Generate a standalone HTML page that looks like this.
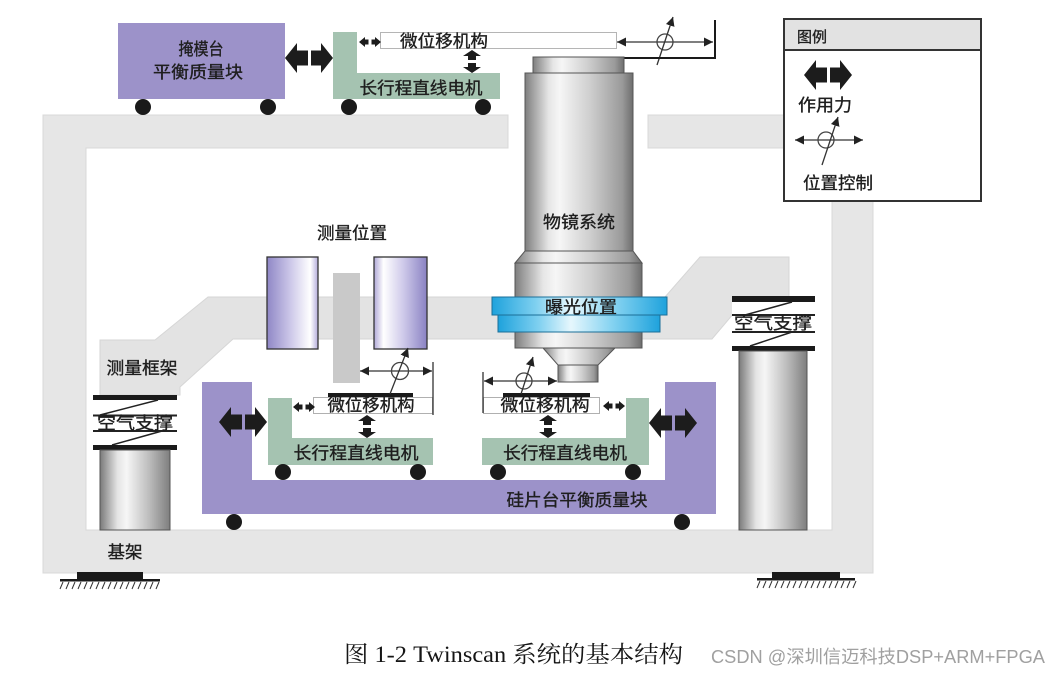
<!DOCTYPE html>
<html><head><meta charset="utf-8">
<style>
html,body{margin:0;padding:0;background:#fff;}
svg{display:block;}
text{font-family:"Liberation Sans","Noto Sans CJK SC",sans-serif;fill:#1e1e1e;}
.lb text{stroke:#1e1e1e;stroke-width:0.35;}
</style></head>
<body>
<svg width="1063" height="674" viewBox="0 0 1063 674" xmlns="http://www.w3.org/2000/svg">
<defs>
  <linearGradient id="gObj" x1="0" x2="1" y1="0" y2="0">
    <stop offset="0" stop-color="#7e7e7e"/>
    <stop offset="0.22" stop-color="#e6e6e6"/>
    <stop offset="0.32" stop-color="#f6f6f6"/>
    <stop offset="0.6" stop-color="#cfcfcf"/>
    <stop offset="0.9" stop-color="#9a9a9a"/>
    <stop offset="1" stop-color="#6e6e6e"/>
  </linearGradient>
  <linearGradient id="gCyl" x1="0" x2="1" y1="0" y2="0">
    <stop offset="0" stop-color="#7a7a7a"/>
    <stop offset="0.25" stop-color="#e4e4e4"/>
    <stop offset="0.38" stop-color="#f6f6f6"/>
    <stop offset="0.7" stop-color="#bdbdbd"/>
    <stop offset="1" stop-color="#7e7e7e"/>
  </linearGradient>
  <linearGradient id="gPurL" x1="0" x2="1" y1="0" y2="0">
    <stop offset="0" stop-color="#8f87c6"/>
    <stop offset="0.45" stop-color="#cbc6e8"/>
    <stop offset="0.85" stop-color="#ffffff"/>
    <stop offset="1" stop-color="#b4acdb"/>
  </linearGradient>
  <linearGradient id="gPurR" x1="0" x2="1" y1="0" y2="0">
    <stop offset="0" stop-color="#b0a8d8"/>
    <stop offset="0.18" stop-color="#ffffff"/>
    <stop offset="0.55" stop-color="#cfcaea"/>
    <stop offset="1" stop-color="#8a82c3"/>
  </linearGradient>
  <linearGradient id="gBlue" x1="0" x2="1" y1="0" y2="0">
    <stop offset="0" stop-color="#1ea2dc"/>
    <stop offset="0.25" stop-color="#7fd0f0"/>
    <stop offset="0.45" stop-color="#e6f7fd"/>
    <stop offset="0.7" stop-color="#86d3f1"/>
    <stop offset="1" stop-color="#1ea2dc"/>
  </linearGradient>
  <marker id="ah" viewBox="0 0 10 10" refX="10" refY="5" markerWidth="9" markerHeight="9" markerUnits="userSpaceOnUse" orient="auto-start-reverse">
    <path d="M0,0 L10,5 L0,10 z" fill="#222"/>
  </marker>
  <g id="bigA" fill="#1c1c1c">
    <polygon points="0,15 12,0 12,7.5 23,7.5 23,22.5 12,22.5 12,30"/>
    <polygon points="48,15 36,0 36,7.5 26,7.5 26,22.5 36,22.5 36,30"/>
  </g>
  <g id="smA" fill="#1c1c1c">
    <polygon points="0,5 6,0 6,2.5 9.5,2.5 9.5,7.5 6,7.5 6,10"/>
    <polygon points="22,5 16,0 16,2.5 12.5,2.5 12.5,7.5 16,7.5 16,10"/>
  </g>
  <g id="vA" fill="#1c1c1c">
    <polygon points="9,0 18,6 13,6 13,10 5,10 5,6 0,6"/>
    <polygon points="9,23 18,17 13,17 13,13 5,13 5,17 0,17"/>
  </g>
  <g id="hatch" stroke="#333" stroke-width="1">
    <line x1="3" y1="0" x2="0" y2="7"/><line x1="9" y1="0" x2="6" y2="7"/>
    <line x1="15" y1="0" x2="12" y2="7"/><line x1="21" y1="0" x2="18" y2="7"/>
    <line x1="27" y1="0" x2="24" y2="7"/><line x1="33" y1="0" x2="30" y2="7"/>
    <line x1="39" y1="0" x2="36" y2="7"/><line x1="45" y1="0" x2="42" y2="7"/>
    <line x1="51" y1="0" x2="48" y2="7"/><line x1="57" y1="0" x2="54" y2="7"/>
    <line x1="63" y1="0" x2="60" y2="7"/><line x1="69" y1="0" x2="66" y2="7"/>
    <line x1="75" y1="0" x2="72" y2="7"/><line x1="81" y1="0" x2="78" y2="7"/>
    <line x1="87" y1="0" x2="84" y2="7"/><line x1="93" y1="0" x2="90" y2="7"/>
    <line x1="99" y1="0" x2="96" y2="7"/>
  </g>
</defs>

<!-- base frame -->
<path d="M43,115 H508 V148 H86 V530 H832 V148 H648 V115 H873 V573 H43 Z" fill="#e6e6e6" stroke="#d8d8d8" stroke-width="1"/>

<!-- measurement frame band -->
<polygon points="100,340 155,340 208,297 665,297 700,257 789,257 789,300 745,300 712,339 233,339 180,387 180,395 100,395" fill="#e3e3e3" stroke="#d6d6d6" stroke-width="1"/>

<!-- reticle balance mass -->
<rect x="118" y="23" width="167" height="76" fill="#9c92c9"/>
<circle cx="143" cy="107" r="8" fill="#1a1a1a"/>
<circle cx="268" cy="107" r="8" fill="#1a1a1a"/>
<use href="#bigA" transform="translate(285,43)"/>
<!-- top stage -->
<path d="M333,32 H357 V73 H500 V99 H333 Z" fill="#a5c3b1"/>
<circle cx="349" cy="107" r="8" fill="#1a1a1a"/>
<circle cx="483" cy="107" r="8" fill="#1a1a1a"/>
<rect x="380.5" y="32.5" width="236" height="16" fill="#fff" stroke="#b5b5b5" stroke-width="1"/>
<use href="#smA" transform="translate(359,37)"/>
<use href="#vA" transform="translate(463,50)"/>

<!-- top position control -->
<line x1="617" y1="42" x2="713" y2="42" stroke="#333" stroke-width="1.3" marker-start="url(#ah)" marker-end="url(#ah)"/>
<circle cx="665" cy="42" r="8" fill="none" stroke="#444" stroke-width="1.3"/>
<line x1="657" y1="65" x2="673" y2="17" stroke="#333" stroke-width="1.3" marker-end="url(#ah)"/>
<polyline points="624,58 715,58 715,20" fill="none" stroke="#1a1a1a" stroke-width="2"/>

<!-- objective -->
<rect x="533" y="57" width="91" height="16" fill="url(#gObj)" stroke="#555" stroke-width="1"/>
<rect x="525" y="73" width="108" height="178" fill="url(#gObj)" stroke="#555" stroke-width="1"/>
<polygon points="525,251 633,251 642,263 515,263" fill="url(#gObj)" stroke="#555" stroke-width="1"/>
<rect x="515" y="263" width="127" height="85" fill="url(#gObj)" stroke="#555" stroke-width="1"/>
<polygon points="543,348 615,348 598,365 558,365" fill="url(#gObj)" stroke="#555" stroke-width="1"/>
<rect x="558" y="365" width="40" height="17" fill="url(#gObj)" stroke="#555" stroke-width="1"/>
<!-- exposure rings -->
<rect x="492" y="297" width="175" height="18" fill="url(#gBlue)" stroke="#1b6f98" stroke-width="1"/>
<rect x="498" y="315" width="162" height="17" fill="url(#gBlue)" stroke="#1b6f98" stroke-width="1"/>

<!-- measurement station -->
<rect x="333" y="273" width="27" height="110" fill="#c9c9c9"/>
<rect x="267" y="257" width="51" height="92" fill="url(#gPurL)" stroke="#333" stroke-width="1.3"/>
<rect x="374" y="257" width="53" height="92" fill="url(#gPurR)" stroke="#333" stroke-width="1.3"/>

<!-- wafer balance mass -->
<polygon points="202,382 252,382 252,480 665,480 665,382 716,382 716,514 202,514" fill="#9c92c9"/>
<circle cx="234" cy="522" r="8" fill="#1a1a1a"/>
<circle cx="682" cy="522" r="8" fill="#1a1a1a"/>
<use href="#bigA" transform="translate(219,407)"/>
<use href="#bigA" transform="translate(649,408)"/>

<!-- left wafer stage -->
<path d="M268,398 H292 V438 H433 V465 H268 Z" fill="#a5c3b1"/>
<circle cx="283" cy="472" r="8" fill="#1a1a1a"/>
<circle cx="418" cy="472" r="8" fill="#1a1a1a"/>
<rect x="313.5" y="397.5" width="119" height="16" fill="#fff" stroke="#b0b0b0" stroke-width="1"/>
<rect x="328" y="393" width="85" height="4" fill="#1a1a1a"/>
<use href="#smA" transform="translate(293,402)"/>
<use href="#vA" transform="translate(358,415)"/>
<line x1="360" y1="371" x2="432" y2="371" stroke="#333" stroke-width="1.3" marker-start="url(#ah)" marker-end="url(#ah)"/>
<line x1="433" y1="362" x2="433" y2="415" stroke="#333" stroke-width="1.3"/>
<circle cx="400" cy="371" r="8.5" fill="none" stroke="#444" stroke-width="1.3"/>
<line x1="390" y1="394" x2="408" y2="348" stroke="#333" stroke-width="1.3" marker-end="url(#ah)"/>

<!-- right wafer stage -->
<path d="M626,398 H649 V465 H482 V438 H626 Z" fill="#a5c3b1"/>
<circle cx="498" cy="472" r="8" fill="#1a1a1a"/>
<circle cx="633" cy="472" r="8" fill="#1a1a1a"/>
<rect x="483.5" y="397.5" width="116" height="16" fill="#fff" stroke="#b0b0b0" stroke-width="1"/>
<rect x="503" y="393" width="87" height="4" fill="#1a1a1a"/>
<use href="#smA" transform="translate(603,401)"/>
<use href="#vA" transform="translate(539,415)"/>
<line x1="484" y1="381" x2="557" y2="381" stroke="#333" stroke-width="1.3" marker-start="url(#ah)" marker-end="url(#ah)"/>
<line x1="483" y1="372" x2="483" y2="413" stroke="#333" stroke-width="1.3"/>
<circle cx="524" cy="381" r="8" fill="none" stroke="#444" stroke-width="1.3"/>
<line x1="521" y1="394" x2="533" y2="357" stroke="#333" stroke-width="1.3" marker-end="url(#ah)"/>

<!-- left air support -->
<rect x="93" y="400" width="84" height="45" fill="#fff"/>
<rect x="93" y="395" width="84" height="5" fill="#1a1a1a"/>
<line x1="158" y1="400" x2="100" y2="415" stroke="#222" stroke-width="1.5"/>
<line x1="93" y1="415.5" x2="177" y2="415.5" stroke="#222" stroke-width="2"/>
<line x1="93" y1="431" x2="177" y2="431" stroke="#222" stroke-width="2"/>
<line x1="162" y1="431" x2="112" y2="445" stroke="#222" stroke-width="1.5"/>
<rect x="93" y="445" width="84" height="5" fill="#1a1a1a"/>
<rect x="100" y="450" width="70" height="80" fill="url(#gCyl)" stroke="#555" stroke-width="1"/>

<!-- right air support -->
<rect x="732" y="302" width="83" height="44" fill="#fff"/>
<rect x="732" y="296" width="83" height="6" fill="#1a1a1a"/>
<line x1="792" y1="302" x2="745" y2="315" stroke="#222" stroke-width="1.5"/>
<line x1="732" y1="315" x2="815" y2="315" stroke="#222" stroke-width="2"/>
<line x1="732" y1="332" x2="815" y2="332" stroke="#222" stroke-width="2"/>
<line x1="792" y1="332" x2="750" y2="346" stroke="#222" stroke-width="1.5"/>
<rect x="732" y="346" width="83" height="5" fill="#1a1a1a"/>
<rect x="739" y="351" width="68" height="179" fill="url(#gCyl)" stroke="#555" stroke-width="1"/>

<!-- grounds -->
<rect x="77" y="572" width="66" height="8" fill="#1a1a1a"/>
<rect x="60" y="579" width="100" height="2.5" fill="#1a1a1a"/>
<use href="#hatch" transform="translate(60,582)"/>
<rect x="772" y="572" width="68" height="7" fill="#1a1a1a"/>
<rect x="757" y="578" width="98" height="2.5" fill="#1a1a1a"/>
<use href="#hatch" transform="translate(757,581)"/>

<!-- legend -->
<rect x="784" y="19" width="197" height="182" fill="#fff" stroke="#333" stroke-width="2"/>
<rect x="785" y="20" width="195" height="30" fill="#e2e2e2"/>
<line x1="784" y1="50" x2="981" y2="50" stroke="#333" stroke-width="2"/>
<use href="#bigA" transform="translate(804,60)"/>
<line x1="795" y1="140" x2="863" y2="140" stroke="#333" stroke-width="1.3" marker-start="url(#ah)" marker-end="url(#ah)"/>
<circle cx="826" cy="140" r="8" fill="none" stroke="#444" stroke-width="1.3"/>
<line x1="822" y1="165" x2="838" y2="117" stroke="#333" stroke-width="1.3" marker-end="url(#ah)"/>

<!-- labels -->
<g font-size="17" class="lb">
  <text x="201" y="55" text-anchor="middle" textLength="45" lengthAdjust="spacingAndGlyphs">掩模台</text>
  <text x="198" y="78" text-anchor="middle" textLength="90" lengthAdjust="spacingAndGlyphs">平衡质量块</text>
  <text x="444" y="47" text-anchor="middle" textLength="88" lengthAdjust="spacingAndGlyphs">微位移机构</text>
  <text x="421" y="94" text-anchor="middle" textLength="123" lengthAdjust="spacingAndGlyphs">长行程直线电机</text>
  <text x="579" y="228" text-anchor="middle" textLength="72" lengthAdjust="spacingAndGlyphs">物镜系统</text>
  <text x="581" y="313" text-anchor="middle" textLength="72" lengthAdjust="spacingAndGlyphs">曝光位置</text>
  <text x="352" y="239" text-anchor="middle" textLength="70" lengthAdjust="spacingAndGlyphs">测量位置</text>
  <text x="142" y="374" text-anchor="middle" textLength="71" lengthAdjust="spacingAndGlyphs">测量框架</text>
  <text x="135" y="429" text-anchor="middle" textLength="76" lengthAdjust="spacingAndGlyphs">空气支撑</text>
  <text x="773" y="329" text-anchor="middle" textLength="78" lengthAdjust="spacingAndGlyphs">空气支撑</text>
  <text x="371" y="411" text-anchor="middle" textLength="87" lengthAdjust="spacingAndGlyphs">微位移机构</text>
  <text x="545" y="411" text-anchor="middle" textLength="89" lengthAdjust="spacingAndGlyphs">微位移机构</text>
  <text x="356" y="459" text-anchor="middle" textLength="125" lengthAdjust="spacingAndGlyphs">长行程直线电机</text>
  <text x="565" y="459" text-anchor="middle" textLength="124" lengthAdjust="spacingAndGlyphs">长行程直线电机</text>
  <text x="577" y="506" text-anchor="middle" textLength="141" lengthAdjust="spacingAndGlyphs">硅片台平衡质量块</text>
  <text x="125" y="558" text-anchor="middle" textLength="35" lengthAdjust="spacingAndGlyphs">基架</text>
  <text x="798" y="111" textLength="54" lengthAdjust="spacingAndGlyphs">作用力</text>
  <text x="803" y="189" textLength="70" lengthAdjust="spacingAndGlyphs">位置控制</text>
  <text x="797" y="42" font-size="15" textLength="30" lengthAdjust="spacingAndGlyphs">图例</text>
</g>

<!-- caption -->
<text x="344" y="662" font-size="23" textLength="339" lengthAdjust="spacingAndGlyphs" style="font-family:'Liberation Serif','Noto Serif CJK SC',serif;fill:#151515;">图 1-2 Twinscan  系统的基本结构</text>
<text x="711" y="663" font-size="18" textLength="334" lengthAdjust="spacingAndGlyphs" style="fill:#a0a0a0;">CSDN @深圳信迈科技DSP+ARM+FPGA</text>
</svg>
</body></html>
